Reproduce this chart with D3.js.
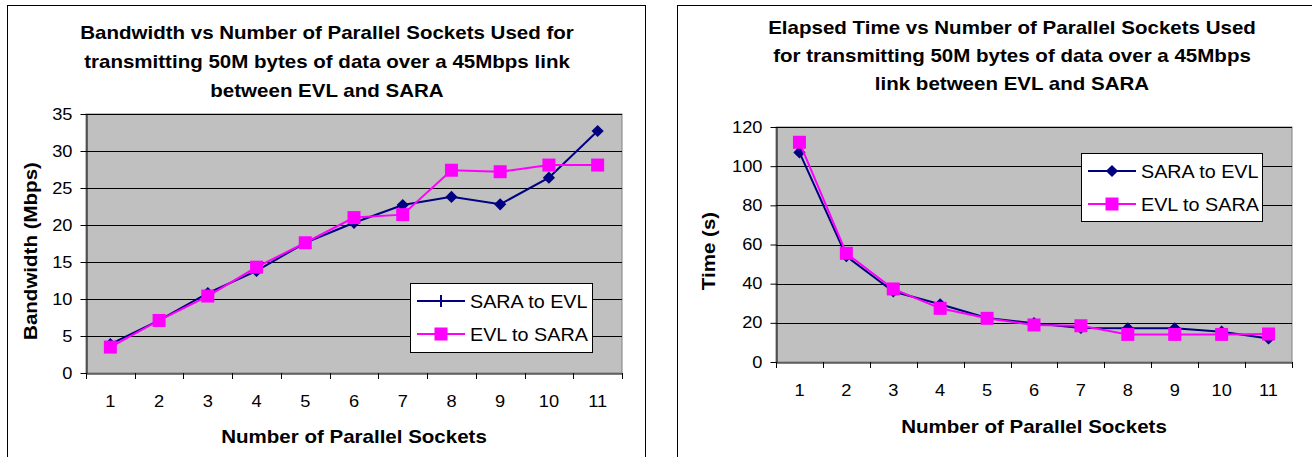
<!DOCTYPE html>
<html><head><meta charset="utf-8">
<script src="https://cdn.jsdelivr.net/npm/d3@7"></script>
<style>
html,body{margin:0;padding:0;background:#fff;}
svg{display:block;font-family:"Liberation Sans",Arial,sans-serif;}
</style></head>
<body>
<svg id="c" width="1312" height="457"></svg>
<script>
const sockets = [1,2,3,4,5,6,7,8,9,10,11];
const seriesNames = ["SARA to EVL","EVL to SARA"];
const bwSaraToEvl = [3.9,7.1,10.8,13.8,17.6,20.3,22.7,23.8,22.8,26.4,32.7];
const bwEvlToSara = [3.5,7.1,10.4,14.3,17.6,21.0,21.4,27.4,27.2,28.1,28.1];
const timeSaraToEvl = [107,54,36,29.5,22.5,19.8,17.4,17.2,17.2,15.5,12];
const timeEvlToSara = [112.2,55.5,37.3,27.4,22.3,18.9,18.5,14.1,14.1,14.1,14.3];
const bwTicks = [0,5,10,15,20,25,30,35];
const timeTicks = [0,20,40,60,80,100,120];
const titleLeft = ["Bandwidth vs Number of Parallel Sockets Used for","transmitting 50M bytes of data over a 45Mbps link","between EVL and SARA"];
const titleRight = ["Elapsed Time vs Number of Parallel Sockets Used","for transmitting 50M bytes of data over a 45Mbps","link between EVL and SARA"];
const xTitle = "Number of Parallel Sockets";

const NAVY="#000080", MAG="#FF00FF";
const SX = 1.14; // horizontal stretch of the reference's text
const svg = d3.select("#c");

function chart(o){
  const g = svg.append("g");
  g.append("rect").attr("x",o.frame[0]+0.5).attr("y",o.frame[1]+0.5)
    .attr("width",o.frame[2]-o.frame[0]).attr("height",o.frame[3]-o.frame[1])
    .attr("fill","#fff").attr("stroke","#000").attr("stroke-width",1);
  // title
  const t = g.append("text").attr("text-anchor","middle").attr("font-weight","bold")
    .attr("font-size",18).attr("fill","#000")
    .attr("transform",`translate(${o.titleX},0) scale(${SX},1)`);
  o.title.forEach((line,i)=>t.append("tspan").attr("x",0).attr("y",o.titleY+i*o.titleDy).text(line));
  const [L,T,R,B] = o.plot;
  const x = d3.scaleBand().domain(sockets).range([L,R]).padding(0);
  const y = d3.scaleLinear().domain([0,o.ticks[o.ticks.length-1]]).range([B,T]);
  g.append("rect").attr("x",L).attr("y",T).attr("width",R-L).attr("height",B-T)
    .attr("fill","#C0C0C0").attr("stroke","#808080").attr("stroke-width",1);
  g.append("g").selectAll("line").data(o.ticks.filter(d=>d>0)).join("line")
    .attr("x1",L).attr("x2",R).attr("y1",d=>Math.round(y(d))+0.5).attr("y2",d=>Math.round(y(d))+0.5)
    .attr("stroke","#000").attr("stroke-width",1);
  const ya = g.append("g").attr("transform",`translate(${L+0.5},0)`)
    .call(d3.axisLeft(y).tickValues(o.ticks).tickSize(6).tickPadding(8).tickSizeOuter(0));
  ya.select(".domain").attr("stroke","#000");
  ya.selectAll("text").attr("font-size",16).attr("font-family","Liberation Sans, Arial, sans-serif")
    .attr("fill","#000").attr("x",-14/SX).attr("transform",`scale(${SX},1)`);
  ya.selectAll(".tick line").attr("stroke","#000");
  const xa = g.append("g").attr("transform",`translate(0,${Math.round(B)+0.5})`)
    .call(d3.axisBottom(x).tickSize(0).tickPadding(22).tickSizeOuter(0));
  xa.select(".domain").attr("stroke","#000");
  xa.selectAll("text").attr("font-size",16).attr("font-family","Liberation Sans, Arial, sans-serif")
    .attr("fill","#000").attr("transform",`scale(${SX},1)`);
  const bounds = sockets.map(d=>x(d)).concat([x(sockets[sockets.length-1])+x.bandwidth()]);
  g.append("g").selectAll("line").data(bounds).join("line")
    .attr("x1",d=>Math.round(d)+0.5).attr("x2",d=>Math.round(d)+0.5)
    .attr("y1",B).attr("y2",B+6).attr("stroke","#000");
  g.append("text").attr("transform",`translate(${(L+R)/2},${o.xTitleY}) scale(${SX},1)`).attr("text-anchor","middle")
    .attr("font-weight","bold").attr("font-size",18).text(xTitle);
  g.append("text").attr("transform",`translate(${o.yTitleX},${o.yTitleY}) rotate(-90) scale(${SX},1)`)
    .attr("text-anchor","middle").attr("dy","0.35em").attr("font-weight","bold").attr("font-size",18).text(o.yTitle);
  const cx = d=>x(d)+x.bandwidth()/2;
  const line = vals => d3.line().x((d,i)=>cx(sockets[i])).y(d=>y(d))(vals);
  g.append("path").attr("d",line(o.s1)).attr("fill","none").attr("stroke",NAVY).attr("stroke-width",2);
  g.append("g").selectAll("path").data(o.s1).join("path")
    .attr("d",d3.symbol(d3.symbolDiamond2,95)).attr("transform",(d,i)=>`translate(${cx(sockets[i])},${y(d)})`)
    .attr("fill",NAVY);
  g.append("path").attr("d",line(o.s2)).attr("fill","none").attr("stroke",MAG).attr("stroke-width",2);
  g.append("g").selectAll("rect").data(o.s2).join("rect")
    .attr("x",(d,i)=>cx(sockets[i])-6.5).attr("y",d=>y(d)-6.5).attr("width",13).attr("height",13)
    .attr("fill",MAG);
  const [lx,ly,lx2,ly2] = o.legend;
  const lg = g.append("g");
  lg.append("rect").attr("x",lx+0.5).attr("y",ly+0.5).attr("width",lx2-lx).attr("height",ly2-ly)
    .attr("fill","#fff").attr("stroke","#000");
  o.legendRows.forEach((ry,i)=>{
    const x1=lx+7, x2=lx+55, mx=(x1+x2)/2;
    lg.append("line").attr("x1",x1).attr("x2",x2).attr("y1",ry).attr("y2",ry)
      .attr("stroke",i?MAG:NAVY).attr("stroke-width",2);
    if(i===0){
      if(o.tickMarker){
        lg.append("line").attr("x1",mx).attr("x2",mx).attr("y1",ry-6).attr("y2",ry+6).attr("stroke",NAVY).attr("stroke-width",2);
      } else {
        lg.append("path").attr("d",d3.symbol(d3.symbolDiamond2,95)).attr("transform",`translate(${mx},${ry})`).attr("fill",NAVY);
      }
    } else {
      lg.append("rect").attr("x",mx-6.5).attr("y",ry-6.5).attr("width",13).attr("height",13).attr("fill",MAG);
    }
    lg.append("text").attr("transform",`translate(${x2+5},${ry}) scale(1.04,1)`).attr("dy","0.36em").attr("font-size",19)
      .attr("fill","#000").text(seriesNames[i]);
  });
}

chart({frame:[7,5,645,470], title:titleLeft, titleX:327, titleY:39, titleDy:29,
  plot:[86,114,622,373], ticks:bwTicks, s1:bwSaraToEvl, s2:bwEvlToSara,
  xTitleY:443, yTitle:"Bandwidth (Mbps)", yTitleX:31, yTitleY:251,
  legend:[410,283,592,352], legendRows:[301,334], tickMarker:true});
chart({frame:[677,5,1330,470], title:titleRight, titleX:1012, titleY:34, titleDy:28,
  plot:[776,127,1292,362], ticks:timeTicks, s1:timeSaraToEvl, s2:timeEvlToSara,
  xTitleY:433, yTitle:"Time (s)", yTitleX:709, yTitleY:251,
  legend:[1081,153,1262,221], legendRows:[171,204], tickMarker:false});
</script>
</body></html>
